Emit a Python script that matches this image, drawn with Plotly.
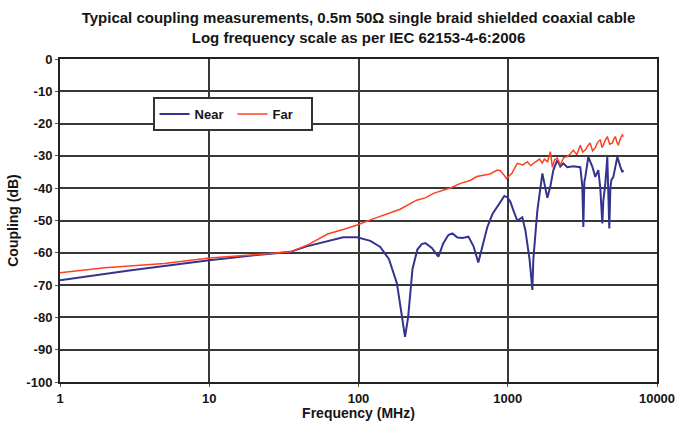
import plotly.graph_objects as go

# Near-end coupling (blue)
near_freq = [1, 2, 3, 5, 10, 20, 35, 45, 62, 79, 98, 120, 140, 160, 181, 195, 205, 215, 230, 248,
             265, 281, 310, 343, 370, 400, 426, 460, 497, 545, 590, 635, 680, 730, 790, 851, 949, 994,
             1041, 1089, 1159, 1252, 1312, 1400, 1462, 1484, 1578, 1706, 1780, 1841, 1929, 2021, 2148,
             2250, 2357, 2506, 2749, 3063, 3160, 3209, 3260, 3310, 3466, 3686, 3861, 4044, 4170, 4302,
             4368, 4506, 4646, 4720, 4791, 4870, 4943, 5097, 5258, 5422, 5679, 5858, 5948]
near_db = [-68.5, -66.5, -65.4, -64.1, -62.3, -60.8, -59.7, -58.0, -56.3, -55.2, -55.2, -56.3, -58.2,
           -62.0, -69.5, -79.0, -86.0, -80.0, -65.0, -59.0, -57.3, -57.0, -58.5, -61.2, -57.0, -54.5,
           -54.0, -55.3, -55.4, -55.0, -58.0, -63.0, -57.5, -52.0, -48.0, -45.7, -42.4, -42.8, -44.2,
           -46.8, -50.0, -49.0, -53.0, -62.0, -71.5, -62.0, -47.0, -35.4, -40.0, -43.0, -39.5, -34.4,
           -31.3, -33.3, -32.3, -33.5, -33.2, -33.5, -39.5, -52.0, -38.0, -36.5, -30.3, -33.3, -36.5,
           -34.4, -40.0, -50.9, -44.0, -38.5, -30.3, -40.0, -52.5, -40.0, -37.5, -36.5, -33.0, -30.3,
           -33.3, -35.0, -34.4]

# Far-end coupling (red)
far_freq = [1, 2, 5, 10, 20, 35, 45.5, 62, 79, 98, 120, 146, 190, 245, 280, 318, 360, 420, 482, 560,
            620, 686, 760, 851, 892, 940, 980, 1065, 1159, 1260, 1355, 1420, 1484, 1560, 1632, 1700,
            1759, 1850, 1929, 1990, 2060, 2148, 2250, 2370, 2506, 2620, 2749, 2900, 3063, 3180, 3310,
            3430, 3563, 3700, 3861, 4000, 4170, 4280, 4368, 4500, 4646, 4820, 5020, 5140, 5258, 5380,
            5506, 5680, 5858, 5948]
far_db = [-66.2, -64.6, -63.3, -61.6, -60.6, -59.7, -57.6, -54.2, -52.8, -51.4, -49.8, -48.3, -46.5,
          -43.7, -43.0, -41.6, -40.8, -39.8, -38.5, -37.6, -36.4, -35.9, -35.6, -34.4, -34.6, -35.8,
          -37.0, -35.4, -32.3, -32.8, -31.8, -33.0, -32.3, -31.6, -31.0, -32.2, -31.0, -31.8, -28.7,
          -33.5, -31.2, -30.7, -32.8, -30.5, -30.2, -29.4, -28.2, -29.6, -26.7, -28.8, -28.2, -26.9,
          -26.0, -28.4, -27.5, -25.8, -25.0, -27.4, -26.7, -25.2, -24.0, -26.4, -26.0, -24.8, -24.0,
          -25.6, -26.7, -24.6, -23.5, -24.0]

x_tickvals = [1, 10, 100, 1000, 10000]
x_ticktext = ["1", "10", "100", "1000", "10000"]
y_tickvals = [0, -10, -20, -30, -40, -50, -60, -70, -80, -90, -100]
y_ticktext = [str(v) for v in y_tickvals]

FONT = "Liberation Sans, Arial, sans-serif"
TXT = "#151515"

fig = go.Figure()
fig.add_trace(go.Scatter(x=near_freq, y=near_db, mode="lines", name="<b>Near</b>",
                         line=dict(color="#34348f", width=2)))
fig.add_trace(go.Scatter(x=far_freq, y=far_db, mode="lines", name="<b>Far</b>",
                         line=dict(color="#ff4020", width=1.5)))

fig.update_layout(
    width=685, height=421,
    margin=dict(l=60, r=28, t=59, b=39, autoexpand=False),
    paper_bgcolor="white", plot_bgcolor="white",
    font=dict(family=FONT, color=TXT, size=13),
    title=dict(text="<b>Typical coupling measurements, 0.5m 50Ω single braid shielded coaxial cable<br>"
                    "Log frequency scale as per IEC 62153-4-6:2006</b>",
               x=0.5, xanchor="center", xref="paper", yref="container", y=0.945, yanchor="top",
               font=dict(family=FONT, size=15, color=TXT)),
    showlegend=True,
    legend=dict(orientation="h", x=0.155, y=0.882, xanchor="left", yanchor="top",
                bgcolor="white", bordercolor="#333", borderwidth=2,
                font=dict(family=FONT, size=13, color=TXT),
                itemwidth=30, entrywidth=33, tracegroupgap=0),
)
fig.update_xaxes(type="log", range=[0, 4], tickvals=x_tickvals, ticktext=x_ticktext,
                 automargin=False,
                 showgrid=True, gridcolor="#383838", gridwidth=2,
                 showline=True, linecolor="#222", linewidth=2, mirror=True,
                 ticks="outside", ticklen=3, tickcolor="#555",
                 tickfont=dict(family=FONT, size=13, color=TXT, weight="bold"),
                 title=dict(text="<b>Frequency (MHz)</b>", font=dict(family=FONT, size=14, color=TXT),
                            standoff=0))
fig.update_yaxes(range=[-100, 0], tickvals=y_tickvals, ticktext=y_ticktext,
                 automargin=False,
                 showgrid=True, gridcolor="#383838", gridwidth=2, zeroline=False,
                 showline=True, linecolor="#222", linewidth=2, mirror=True,
                 ticks="outside", ticklen=3, tickcolor="#555",
                 tickfont=dict(family=FONT, size=13, color=TXT, weight="bold"),
                 title=dict(text="<b>Coupling (dB)</b>", font=dict(family=FONT, size=14, color=TXT),
                            standoff=4))

fig.write_html("out.html", config={"displayModeBar": False},
               post_script="document.body.style.margin='0px';")
